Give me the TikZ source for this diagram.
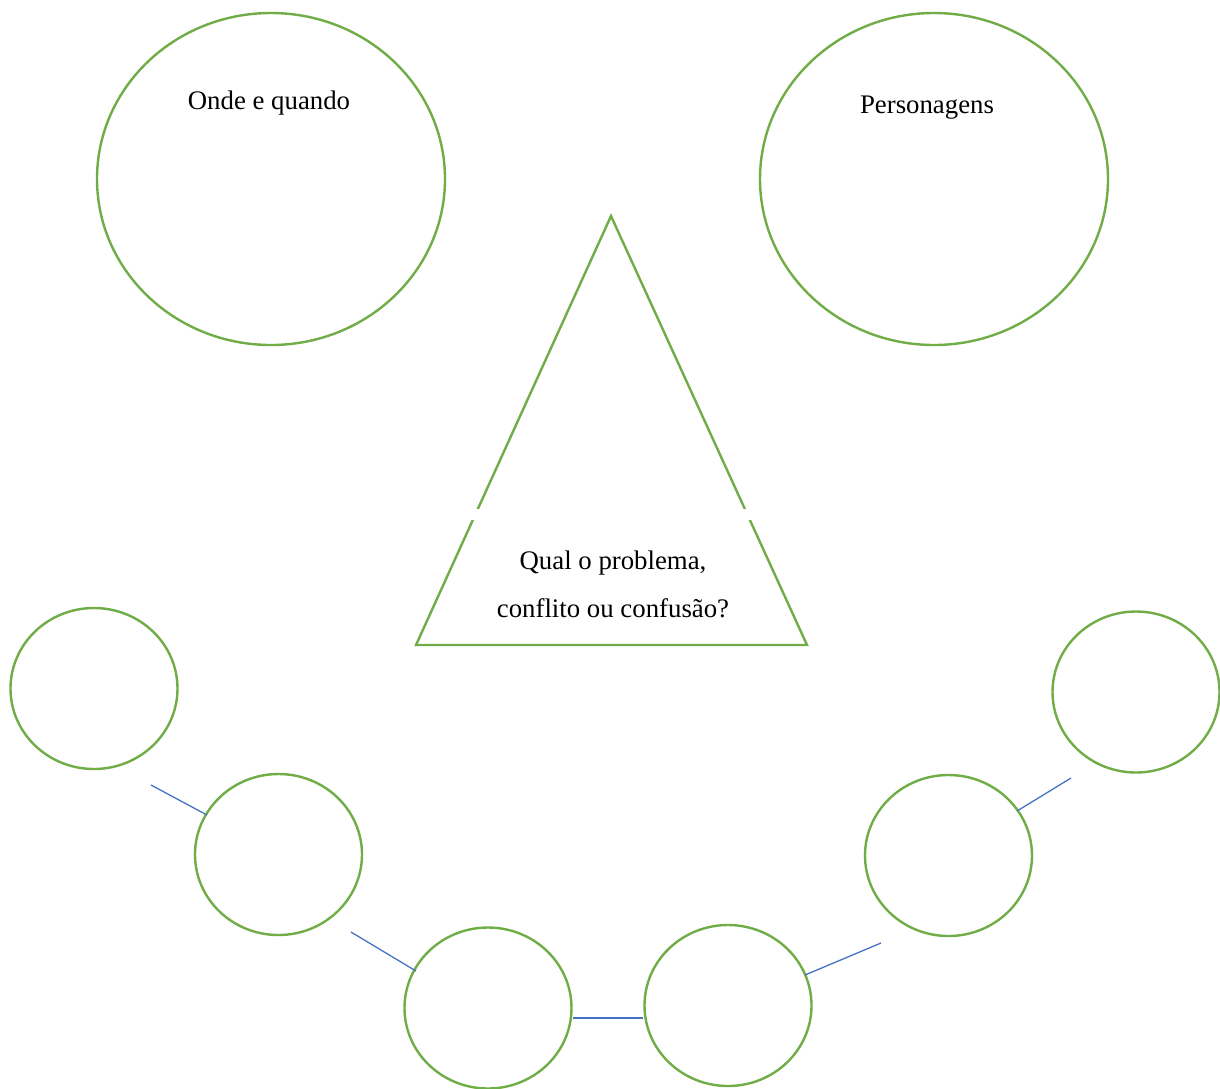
\documentclass[tikz,border=0pt]{standalone}
\usepackage{fontspec}
\setmainfont{Liberation Serif}
\usetikzlibrary{shapes.geometric}
\definecolor{leaf}{HTML}{70AD47}
\definecolor{link}{HTML}{4472C4}
\begin{document}
\begin{tikzpicture}[x=1pt,y=-1pt,
  bubble/.style={ellipse,draw=leaf,line width=2.4pt,inner sep=0pt,
    minimum width=#1},
  bigbubble/.style={bubble=348pt,minimum height=332pt},
  smallbubble/.style={bubble=167pt,minimum height=161pt},
  tie/.style={draw=link,line width=1.3pt},
  label/.style={font=\fontsize{26.8}{32}\selectfont,inner sep=0pt}]
\fill[white] (0,0) rectangle (1220,1088);
\useasboundingbox (0,0) rectangle (1220,1088);

% setting and characters
\node[bigbubble] (where) at (271,179) {};
\node[bigbubble] (who) at (934,179) {};
\node[label] (wheretext) at (269,103) {Onde e quando};
\node[label] (whotext) at (927,108) {Personagens};

% the problem triangle
\coordinate (apex) at (611,216);
\coordinate (baseL) at (416,645);
\coordinate (baseR) at (807,645);
\draw[leaf,line width=2.4pt,line join=miter] (apex) -- (baseL) -- (baseR) -- cycle;
\fill[white] (468,509) rectangle (757,520);
\node[label] (q1) at (613,563) {Qual o problema,};
\node[label] (q2) at (613,608) {conflito ou confusão?};

% chain of events
\node[smallbubble] (e1) at (94,688.5) {};
\node[smallbubble] (e2) at (278.5,854.5) {};
\node[smallbubble] (e3) at (488,1008) {};
\node[smallbubble] (e4) at (728,1005.5) {};
\node[smallbubble] (e5) at (948.5,855.5) {};
\node[smallbubble] (e6) at (1136,692) {};

% loose ends of the links and where they meet the circles
\coordinate (t1) at (151,785);
\coordinate (h2) at (207,815);
\coordinate (t2) at (351,932);
\coordinate (h3) at (416,971);
\coordinate (h4) at (805,975);
\coordinate (t4) at (881,943);
\coordinate (h5) at (1017,811);
\coordinate (t5) at (1071,778);
\draw[tie] (t1) -- (h2);
\draw[tie] (t2) -- (h3);
\draw[tie] (e3.east |- 0,1018) -- (e4.west |- 0,1018);
\draw[tie] (h4) -- (t4);
\draw[tie] (h5) -- (t5);
\end{tikzpicture}
\end{document}
